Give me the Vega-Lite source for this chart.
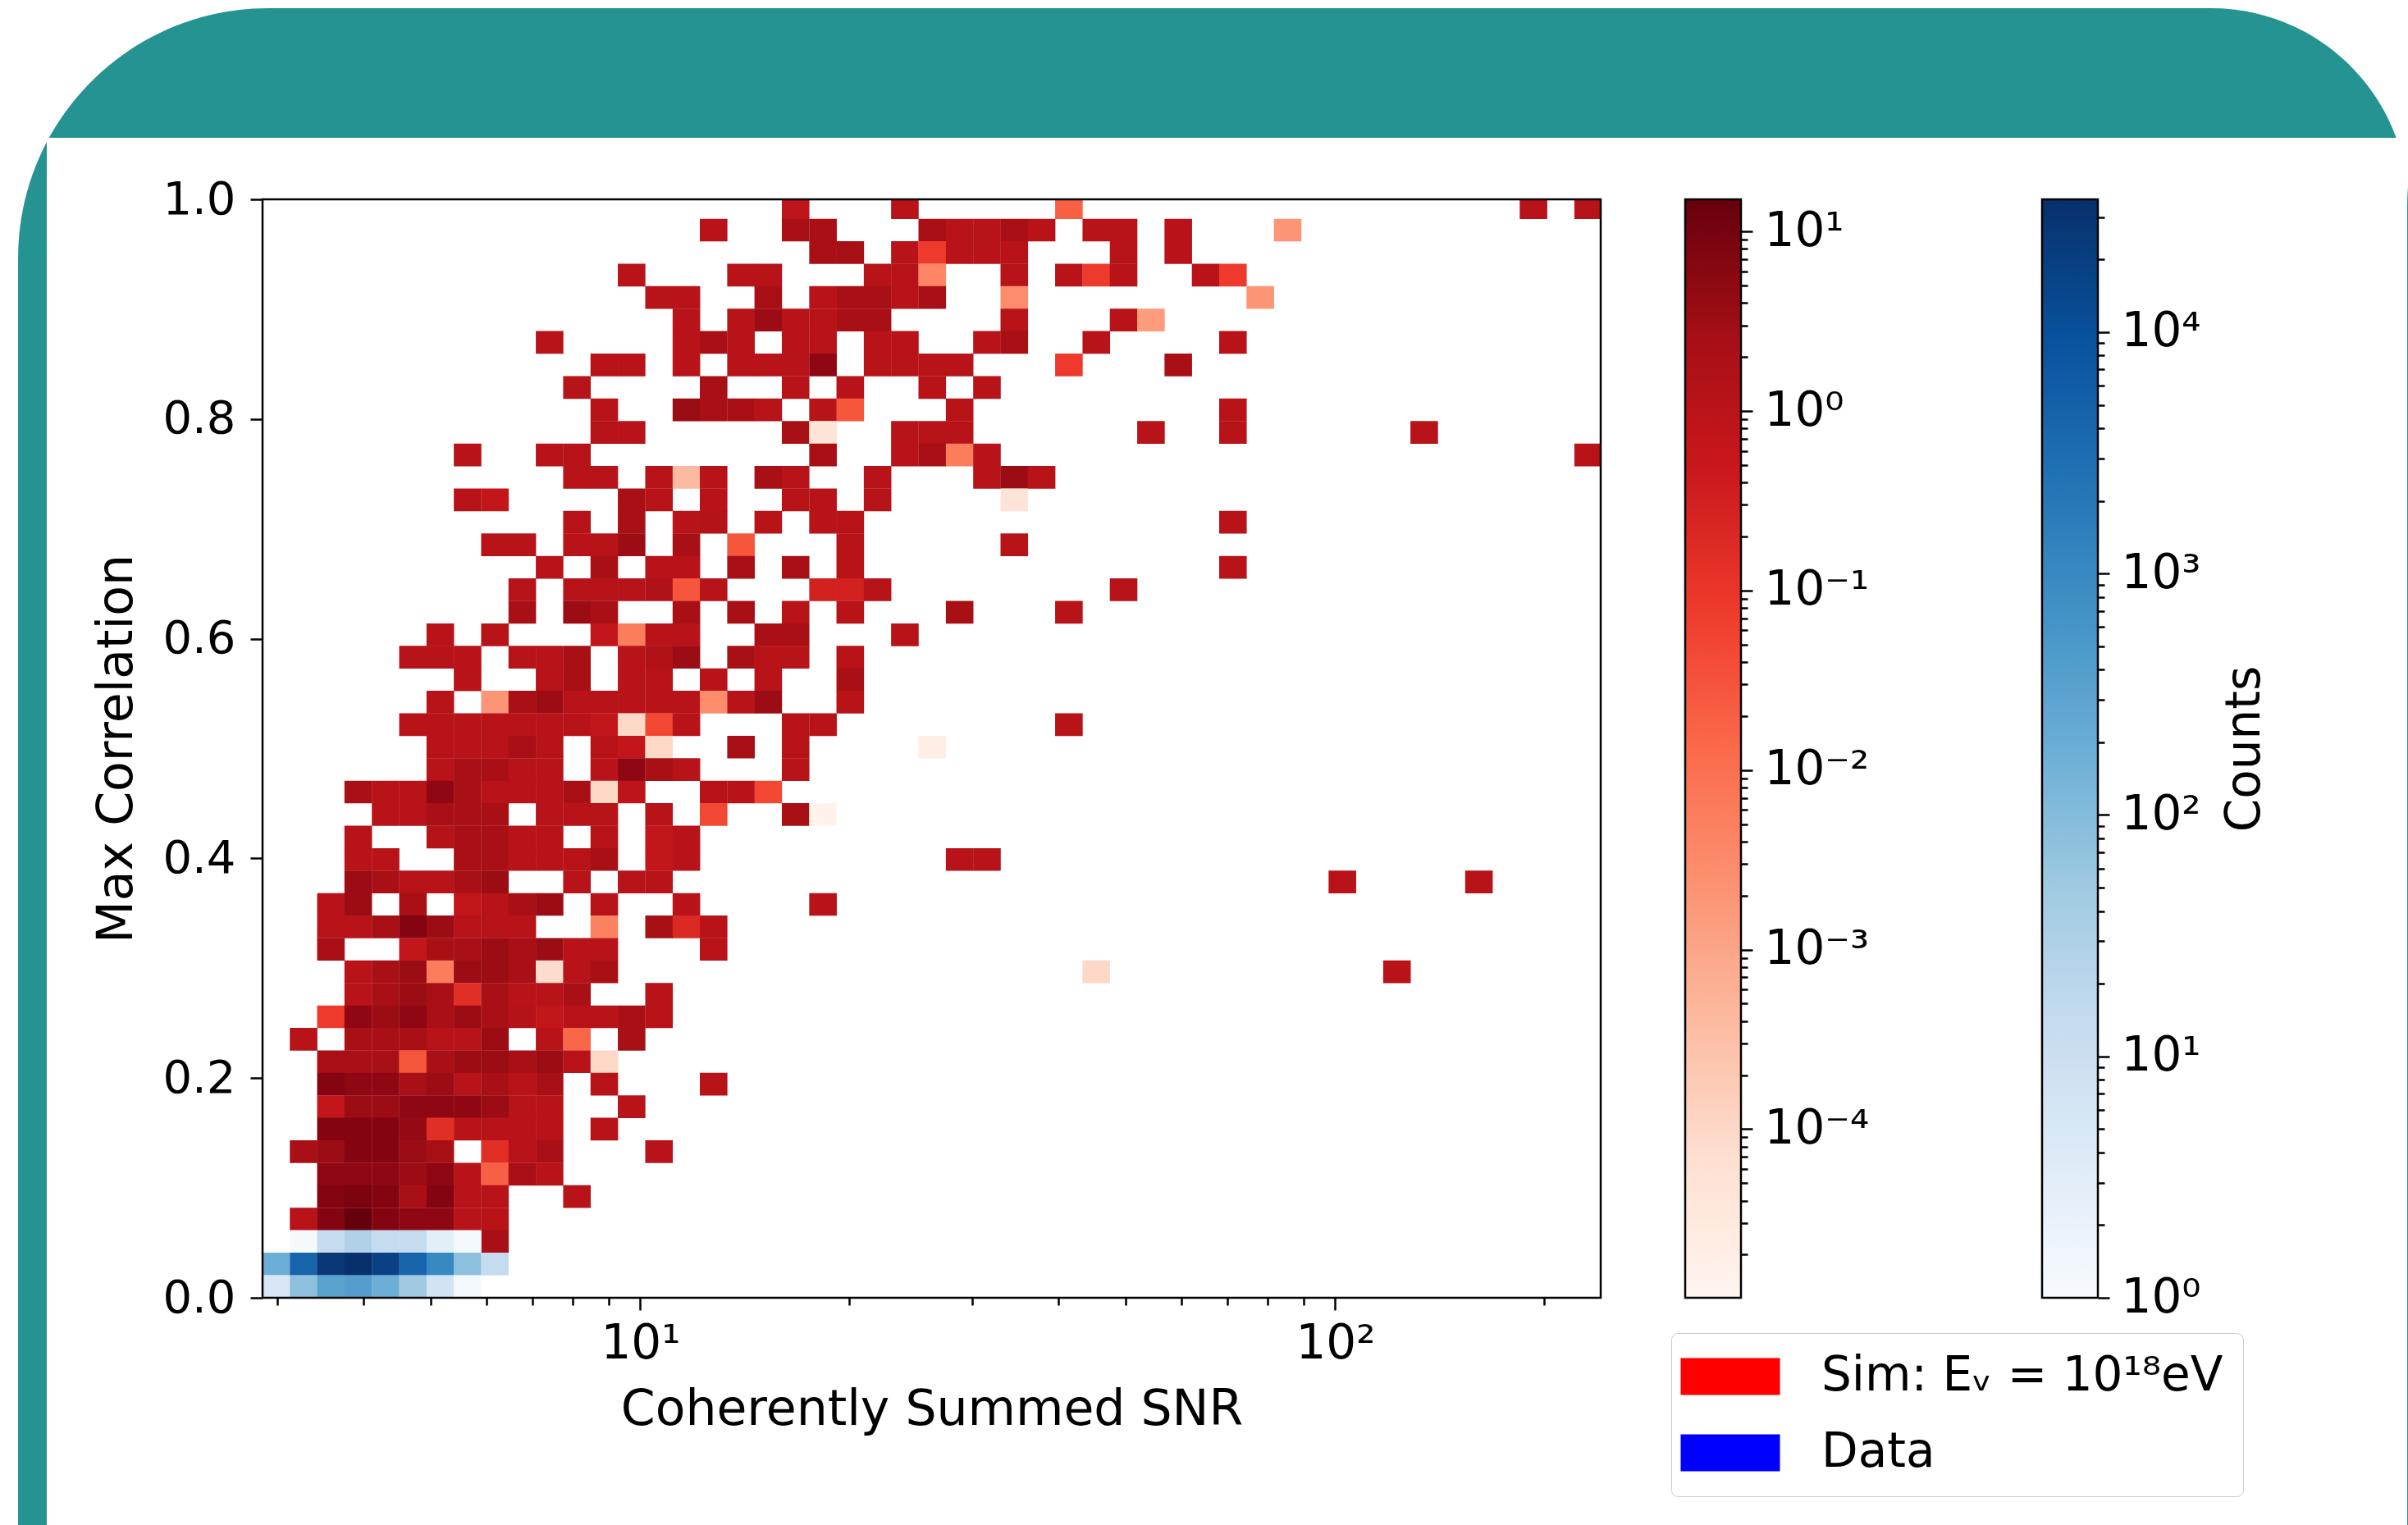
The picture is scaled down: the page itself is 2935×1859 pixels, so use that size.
{"$schema":"https://vega.github.io/schema/vega-lite/v6.json","background":"white","padding":{"left":22,"top":10,"right":0,"bottom":0},"bounds":"flush","spacing":103,"config":{"view":{"stroke":null},"font":"DejaVu Sans","axis":{"domain":false,"grid":false,"tickColor":"black","tickWidth":2.5,"labelColor":"black","titleColor":"black","titleFontWeight":"normal"}},
"datasets":{"sheet":[{"a":-0.1827,"b":1.6033,"c":-0.2069,"d":1.174}],"page":[{"a":-0.16125,"b":1.6027,"c":-0.2069,"d":1.056}],"one":[{"o":1}],"series":[{"s":"Sim: Eᵥ = 10¹⁸eV"},{"s":"Data"}],
"blues":[{"x":3.277,"y":0.0512,"v":1.2},{"x":3.587,"y":0.0512,"v":14},{"x":3.927,"y":0.0512,"v":29},{"x":4.3,"y":0.0512,"v":14},{"x":4.708,"y":0.0512,"v":14},{"x":5.154,"y":0.0512,"v":3},{"x":5.642,"y":0.0512,"v":1.2},{"x":2.993,"y":0.0307,"v":190},{"x":3.277,"y":0.0307,"v":4400},{"x":3.587,"y":0.0307,"v":26000},{"x":3.927,"y":0.0307,"v":35000},{"x":4.3,"y":0.0307,"v":18000},{"x":4.708,"y":0.0307,"v":4400},{"x":5.154,"y":0.0307,"v":1000},{"x":5.642,"y":0.0307,"v":80},{"x":6.177,"y":0.0307,"v":14},{"x":2.993,"y":0.0102,"v":5},{"x":3.277,"y":0.0102,"v":80},{"x":3.587,"y":0.0102,"v":320},{"x":3.927,"y":0.0102,"v":400},{"x":4.3,"y":0.0102,"v":190},{"x":4.708,"y":0.0102,"v":50},{"x":5.154,"y":0.0102,"v":7},{"x":5.642,"y":0.0102,"v":1.2}],
"reds":[
{"x":16.73,"y":0.9924,"v":0.8},{"x":24.03,"y":0.9924,"v":1.1},{"x":41.38,"y":0.9924,"v":0.02},{"x":192.9,"y":0.9924,"v":1.1},{"x":231.2,"y":0.9924,"v":1.1},
{"x":12.75,"y":0.972,"v":1.1},{"x":16.73,"y":0.972,"v":2.1},{"x":18.32,"y":0.972,"v":2.1},{"x":26.31,"y":0.972,"v":2.1},{"x":28.81,"y":0.972,"v":1.1},{"x":31.54,"y":0.972,"v":1.1},{"x":34.53,"y":0.972,"v":2.1},{"x":37.8,"y":0.972,"v":1.1},{"x":45.31,"y":0.972,"v":1.1},{"x":49.6,"y":0.972,"v":1.1},{"x":59.45,"y":0.972,"v":1.1},{"x":85.41,"y":0.972,"v":0.002},
{"x":18.32,"y":0.9515,"v":2.1},{"x":20.05,"y":0.9515,"v":2.1},{"x":24.03,"y":0.9515,"v":1.1},{"x":26.31,"y":0.9515,"v":0.08},{"x":28.81,"y":0.9515,"v":1.1},{"x":31.54,"y":0.9515,"v":1.1},{"x":34.53,"y":0.9515,"v":1.1},{"x":49.6,"y":0.9515,"v":1.1},{"x":59.45,"y":0.9515,"v":1.1},
{"x":9.716,"y":0.931,"v":1.1},{"x":13.96,"y":0.931,"v":1.1},{"x":15.28,"y":0.931,"v":1.1},{"x":21.95,"y":0.931,"v":1.1},{"x":24.03,"y":0.931,"v":1.1},{"x":26.31,"y":0.931,"v":0.004},{"x":34.53,"y":0.931,"v":1.1},{"x":41.38,"y":0.931,"v":1.1},{"x":45.31,"y":0.931,"v":0.08},{"x":49.6,"y":0.931,"v":1.1},{"x":65.09,"y":0.931,"v":1.1},{"x":71.26,"y":0.931,"v":0.08},
{"x":10.64,"y":0.9106,"v":1.1},{"x":11.65,"y":0.9106,"v":1.1},{"x":15.28,"y":0.9106,"v":2.1},{"x":18.32,"y":0.9106,"v":1.1},{"x":20.05,"y":0.9106,"v":2.1},{"x":21.95,"y":0.9106,"v":2.1},{"x":24.03,"y":0.9106,"v":1.1},{"x":26.31,"y":0.9106,"v":2.1},{"x":34.53,"y":0.9106,"v":0.003},{"x":78.02,"y":0.9106,"v":0.002},
{"x":11.65,"y":0.8901,"v":1.1},{"x":13.96,"y":0.8901,"v":1.1},{"x":15.28,"y":0.8901,"v":3.3},{"x":16.73,"y":0.8901,"v":1.1},{"x":18.32,"y":0.8901,"v":1.1},{"x":20.05,"y":0.8901,"v":2.1},{"x":21.95,"y":0.8901,"v":2.1},{"x":34.53,"y":0.8901,"v":1.1},{"x":49.6,"y":0.8901,"v":1.1},{"x":54.31,"y":0.8901,"v":0.0015},
{"x":7.404,"y":0.8697,"v":1.1},{"x":11.65,"y":0.8697,"v":1.1},{"x":12.75,"y":0.8697,"v":2.1},{"x":13.96,"y":0.8697,"v":1.1},{"x":16.73,"y":0.8697,"v":1.1},{"x":18.32,"y":0.8697,"v":1.1},{"x":21.95,"y":0.8697,"v":1.1},{"x":24.03,"y":0.8697,"v":1.1},{"x":31.54,"y":0.8697,"v":1.1},{"x":34.53,"y":0.8697,"v":2.1},{"x":45.31,"y":0.8697,"v":1.1},{"x":71.26,"y":0.8697,"v":1.1},
{"x":8.875,"y":0.8492,"v":1.1},{"x":9.716,"y":0.8492,"v":1.1},{"x":11.65,"y":0.8492,"v":1.1},{"x":13.96,"y":0.8492,"v":1.1},{"x":15.28,"y":0.8492,"v":1.1},{"x":16.73,"y":0.8492,"v":1.1},{"x":18.32,"y":0.8492,"v":4.8},{"x":21.95,"y":0.8492,"v":1.1},{"x":24.03,"y":0.8492,"v":1.1},{"x":26.31,"y":0.8492,"v":1.1},{"x":28.81,"y":0.8492,"v":1.1},{"x":41.38,"y":0.8492,"v":0.08},{"x":59.45,"y":0.8492,"v":2.1},
{"x":8.106,"y":0.8287,"v":1.1},{"x":12.75,"y":0.8287,"v":2.1},{"x":16.73,"y":0.8287,"v":1.1},{"x":20.05,"y":0.8287,"v":1.1},{"x":26.31,"y":0.8287,"v":1.1},{"x":31.54,"y":0.8287,"v":1.1},
{"x":8.875,"y":0.8083,"v":1.1},{"x":11.65,"y":0.8083,"v":3.3},{"x":12.75,"y":0.8083,"v":2.1},{"x":13.96,"y":0.8083,"v":2.1},{"x":15.28,"y":0.8083,"v":1.1},{"x":18.32,"y":0.8083,"v":1.1},{"x":20.05,"y":0.8083,"v":0.03},{"x":28.81,"y":0.8083,"v":1.1},{"x":71.26,"y":0.8083,"v":1.1},
{"x":8.875,"y":0.7878,"v":1.1},{"x":9.716,"y":0.7878,"v":1.1},{"x":16.73,"y":0.7878,"v":2.1},{"x":18.32,"y":0.7878,"v":0.00005},{"x":24.03,"y":0.7878,"v":1.1},{"x":26.31,"y":0.7878,"v":1.1},{"x":28.81,"y":0.7878,"v":1.1},{"x":54.31,"y":0.7878,"v":1.1},{"x":71.26,"y":0.7878,"v":1.1},{"x":134.3,"y":0.7878,"v":1.1},
{"x":5.642,"y":0.7673,"v":1.1},{"x":7.404,"y":0.7673,"v":1.1},{"x":8.106,"y":0.7673,"v":1.1},{"x":18.32,"y":0.7673,"v":2.1},{"x":24.03,"y":0.7673,"v":1.1},{"x":26.31,"y":0.7673,"v":2.1},{"x":28.81,"y":0.7673,"v":0.006},{"x":31.54,"y":0.7673,"v":1.1},{"x":231.2,"y":0.7673,"v":1.1},
{"x":8.106,"y":0.7469,"v":1.1},{"x":8.875,"y":0.7469,"v":1.1},{"x":10.64,"y":0.7469,"v":1.1},{"x":11.65,"y":0.7469,"v":0.0004},{"x":12.75,"y":0.7469,"v":1.1},{"x":15.28,"y":0.7469,"v":2.1},{"x":16.73,"y":0.7469,"v":1.1},{"x":21.95,"y":0.7469,"v":1.1},{"x":31.54,"y":0.7469,"v":1.1},{"x":34.53,"y":0.7469,"v":3.3},{"x":37.8,"y":0.7469,"v":1.1},
{"x":5.642,"y":0.7264,"v":1.1},{"x":6.177,"y":0.7264,"v":0.64},{"x":9.716,"y":0.7264,"v":2.1},{"x":10.64,"y":0.7264,"v":1.1},{"x":12.75,"y":0.7264,"v":1.1},{"x":16.73,"y":0.7264,"v":1.1},{"x":18.32,"y":0.7264,"v":1.1},{"x":21.95,"y":0.7264,"v":1.1},{"x":34.53,"y":0.7264,"v":0.00005},
{"x":8.106,"y":0.706,"v":1.1},{"x":9.716,"y":0.706,"v":2.1},{"x":11.65,"y":0.706,"v":1.1},{"x":12.75,"y":0.706,"v":1.3},{"x":15.28,"y":0.706,"v":1.1},{"x":18.32,"y":0.706,"v":1.1},{"x":20.05,"y":0.706,"v":1.1},{"x":71.26,"y":0.706,"v":1.1},
{"x":6.177,"y":0.6855,"v":1.1},{"x":6.763,"y":0.6855,"v":1.1},{"x":8.106,"y":0.6855,"v":1.1},{"x":8.875,"y":0.6855,"v":1.1},{"x":9.716,"y":0.6855,"v":3.3},{"x":11.65,"y":0.6855,"v":2.1},{"x":13.96,"y":0.6855,"v":0.03},{"x":20.05,"y":0.6855,"v":1.1},{"x":34.53,"y":0.6855,"v":1.1},
{"x":7.404,"y":0.665,"v":1.1},{"x":8.875,"y":0.665,"v":2.1},{"x":10.64,"y":0.665,"v":1.1},{"x":11.65,"y":0.665,"v":1.1},{"x":13.96,"y":0.665,"v":2.1},{"x":16.73,"y":0.665,"v":2.1},{"x":20.05,"y":0.665,"v":1.1},{"x":71.26,"y":0.665,"v":1.1},
{"x":6.763,"y":0.6446,"v":1.1},{"x":8.106,"y":0.6446,"v":1.1},{"x":8.875,"y":0.6446,"v":1.1},{"x":9.716,"y":0.6446,"v":1.1},{"x":10.64,"y":0.6446,"v":1.5},{"x":11.65,"y":0.6446,"v":0.03},{"x":12.75,"y":0.6446,"v":1.1},{"x":18.32,"y":0.6446,"v":0.3},{"x":20.05,"y":0.6446,"v":0.3},{"x":21.95,"y":0.6446,"v":1.1},{"x":49.6,"y":0.6446,"v":1.1},
{"x":6.763,"y":0.6241,"v":2.1},{"x":8.106,"y":0.6241,"v":3.3},{"x":8.875,"y":0.6241,"v":2.1},{"x":11.65,"y":0.6241,"v":2.1},{"x":13.96,"y":0.6241,"v":2.1},{"x":16.73,"y":0.6241,"v":1.1},{"x":20.05,"y":0.6241,"v":1.1},{"x":28.81,"y":0.6241,"v":2.1},{"x":41.38,"y":0.6241,"v":1.1},
{"x":5.154,"y":0.6036,"v":1.1},{"x":6.177,"y":0.6036,"v":1.1},{"x":8.875,"y":0.6036,"v":0.64},{"x":9.716,"y":0.6036,"v":0.006},{"x":10.64,"y":0.6036,"v":1.1},{"x":11.65,"y":0.6036,"v":1.1},{"x":15.28,"y":0.6036,"v":2.1},{"x":16.73,"y":0.6036,"v":2.1},{"x":24.03,"y":0.6036,"v":1.1},
{"x":4.708,"y":0.5832,"v":1.1},{"x":5.154,"y":0.5832,"v":1.1},{"x":5.642,"y":0.5832,"v":1.1},{"x":6.763,"y":0.5832,"v":1.1},{"x":7.404,"y":0.5832,"v":1.1},{"x":8.106,"y":0.5832,"v":2.1},{"x":9.716,"y":0.5832,"v":1.1},{"x":10.64,"y":0.5832,"v":1.5},{"x":11.65,"y":0.5832,"v":3.3},{"x":13.96,"y":0.5832,"v":2.1},{"x":15.28,"y":0.5832,"v":1.1},{"x":16.73,"y":0.5832,"v":1.1},{"x":20.05,"y":0.5832,"v":1.1},
{"x":5.642,"y":0.5627,"v":1.1},{"x":7.404,"y":0.5627,"v":1.1},{"x":8.106,"y":0.5627,"v":2.1},{"x":9.716,"y":0.5627,"v":1.1},{"x":10.64,"y":0.5627,"v":1.1},{"x":12.75,"y":0.5627,"v":1.1},{"x":15.28,"y":0.5627,"v":1.1},{"x":20.05,"y":0.5627,"v":2.1},
{"x":5.154,"y":0.5423,"v":1.1},{"x":6.177,"y":0.5423,"v":0.002},{"x":6.763,"y":0.5423,"v":2.1},{"x":7.404,"y":0.5423,"v":3.3},{"x":8.106,"y":0.5423,"v":1.1},{"x":8.875,"y":0.5423,"v":1.1},{"x":9.716,"y":0.5423,"v":1.1},{"x":10.64,"y":0.5423,"v":1.1},{"x":11.65,"y":0.5423,"v":1.1},{"x":12.75,"y":0.5423,"v":0.003},{"x":13.96,"y":0.5423,"v":1.1},{"x":15.28,"y":0.5423,"v":3.3},{"x":20.05,"y":0.5423,"v":1.1},
{"x":4.708,"y":0.5218,"v":1.1},{"x":5.154,"y":0.5218,"v":1.1},{"x":5.642,"y":0.5218,"v":1.1},{"x":6.177,"y":0.5218,"v":1.1},{"x":6.763,"y":0.5218,"v":1.1},{"x":7.404,"y":0.5218,"v":1.1},{"x":8.106,"y":0.5218,"v":1.1},{"x":8.875,"y":0.5218,"v":0.64},{"x":9.716,"y":0.5218,"v":0.0001},{"x":10.64,"y":0.5218,"v":0.05},{"x":11.65,"y":0.5218,"v":1.1},{"x":16.73,"y":0.5218,"v":1.1},{"x":18.32,"y":0.5218,"v":1.1},{"x":41.38,"y":0.5218,"v":1.1},
{"x":5.154,"y":0.5013,"v":1.1},{"x":5.642,"y":0.5013,"v":1.1},{"x":6.177,"y":0.5013,"v":1.1},{"x":6.763,"y":0.5013,"v":2.1},{"x":7.404,"y":0.5013,"v":1.1},{"x":8.875,"y":0.5013,"v":1.1},{"x":9.716,"y":0.5013,"v":0.64},{"x":10.64,"y":0.5013,"v":0.0001},{"x":13.96,"y":0.5013,"v":2.1},{"x":16.73,"y":0.5013,"v":1.1},{"x":26.31,"y":0.5013,"v":0.00002},
{"x":5.154,"y":0.4809,"v":1.1},{"x":5.642,"y":0.4809,"v":2.1},{"x":6.177,"y":0.4809,"v":2.1},{"x":6.763,"y":0.4809,"v":1.1},{"x":7.404,"y":0.4809,"v":1.1},{"x":8.875,"y":0.4809,"v":1.1},{"x":9.716,"y":0.4809,"v":4.8},{"x":10.64,"y":0.4809,"v":2.1},{"x":11.65,"y":0.4809,"v":1.1},{"x":16.73,"y":0.4809,"v":1.1},
{"x":3.927,"y":0.4604,"v":2.1},{"x":4.3,"y":0.4604,"v":1.1},{"x":4.708,"y":0.4604,"v":1.1},{"x":5.154,"y":0.4604,"v":4.8},{"x":5.642,"y":0.4604,"v":2.1},{"x":6.177,"y":0.4604,"v":1.1},{"x":6.763,"y":0.4604,"v":1.1},{"x":7.404,"y":0.4604,"v":1.1},{"x":8.106,"y":0.4604,"v":2.1},{"x":8.875,"y":0.4604,"v":0.0001},{"x":9.716,"y":0.4604,"v":0.9},{"x":12.75,"y":0.4604,"v":1.1},{"x":13.96,"y":0.4604,"v":1.1},{"x":15.28,"y":0.4604,"v":0.05},
{"x":4.3,"y":0.4399,"v":1.1},{"x":4.708,"y":0.4399,"v":1.1},{"x":5.154,"y":0.4399,"v":2.1},{"x":5.642,"y":0.4399,"v":2.1},{"x":6.177,"y":0.4399,"v":2.1},{"x":7.404,"y":0.4399,"v":1.1},{"x":8.106,"y":0.4399,"v":1.1},{"x":8.875,"y":0.4399,"v":1.1},{"x":10.64,"y":0.4399,"v":1.1},{"x":12.75,"y":0.4399,"v":0.05},{"x":16.73,"y":0.4399,"v":2.1},{"x":18.32,"y":0.4399,"v":0.000015},
{"x":3.927,"y":0.4195,"v":1.1},{"x":5.154,"y":0.4195,"v":1.3},{"x":5.642,"y":0.4195,"v":2.1},{"x":6.177,"y":0.4195,"v":2.1},{"x":6.763,"y":0.4195,"v":1.1},{"x":7.404,"y":0.4195,"v":1.1},{"x":8.875,"y":0.4195,"v":1.1},{"x":10.64,"y":0.4195,"v":0.64},{"x":11.65,"y":0.4195,"v":1.1},
{"x":3.927,"y":0.399,"v":1.1},{"x":4.3,"y":0.399,"v":1.1},{"x":5.642,"y":0.399,"v":2.1},{"x":6.177,"y":0.399,"v":2.1},{"x":6.763,"y":0.399,"v":1.1},{"x":7.404,"y":0.399,"v":1.1},{"x":8.106,"y":0.399,"v":1.1},{"x":8.875,"y":0.399,"v":2.1},{"x":10.64,"y":0.399,"v":0.64},{"x":11.65,"y":0.399,"v":1.1},{"x":28.81,"y":0.399,"v":1.1},{"x":31.54,"y":0.399,"v":1.1},
{"x":3.927,"y":0.3786,"v":3.3},{"x":4.3,"y":0.3786,"v":2.1},{"x":4.708,"y":0.3786,"v":1.1},{"x":5.154,"y":0.3786,"v":1.1},{"x":5.642,"y":0.3786,"v":2.1},{"x":6.177,"y":0.3786,"v":3.3},{"x":8.106,"y":0.3786,"v":1.1},{"x":9.716,"y":0.3786,"v":1.1},{"x":10.64,"y":0.3786,"v":1.1},{"x":102.4,"y":0.3786,"v":1.1},{"x":161,"y":0.3786,"v":1.1},
{"x":3.587,"y":0.3581,"v":1.1},{"x":3.927,"y":0.3581,"v":3.3},{"x":4.708,"y":0.3581,"v":2.1},{"x":5.642,"y":0.3581,"v":0.64},{"x":6.177,"y":0.3581,"v":1.1},{"x":6.763,"y":0.3581,"v":2.1},{"x":7.404,"y":0.3581,"v":3.3},{"x":8.875,"y":0.3581,"v":1.1},{"x":11.65,"y":0.3581,"v":1.1},{"x":18.32,"y":0.3581,"v":1.1},
{"x":3.587,"y":0.3376,"v":1.1},{"x":3.927,"y":0.3376,"v":1.1},{"x":4.3,"y":0.3376,"v":2.1},{"x":4.708,"y":0.3376,"v":6.5},{"x":5.154,"y":0.3376,"v":3.3},{"x":5.642,"y":0.3376,"v":1.1},{"x":6.177,"y":0.3376,"v":1.1},{"x":6.763,"y":0.3376,"v":1.1},{"x":8.875,"y":0.3376,"v":0.005},{"x":10.64,"y":0.3376,"v":2.1},{"x":11.65,"y":0.3376,"v":0.2},{"x":12.75,"y":0.3376,"v":1.1},
{"x":3.587,"y":0.3172,"v":2.1},{"x":4.708,"y":0.3172,"v":0.64},{"x":5.154,"y":0.3172,"v":2.1},{"x":5.642,"y":0.3172,"v":2.1},{"x":6.177,"y":0.3172,"v":3.3},{"x":6.763,"y":0.3172,"v":2.1},{"x":7.404,"y":0.3172,"v":3.3},{"x":8.106,"y":0.3172,"v":1.1},{"x":8.875,"y":0.3172,"v":1.1},{"x":12.75,"y":0.3172,"v":1.1},
{"x":3.927,"y":0.2967,"v":1.1},{"x":4.3,"y":0.2967,"v":2.1},{"x":4.708,"y":0.2967,"v":3.3},{"x":5.154,"y":0.2967,"v":0.006},{"x":5.642,"y":0.2967,"v":3.3},{"x":6.177,"y":0.2967,"v":3.3},{"x":6.763,"y":0.2967,"v":2.1},{"x":7.404,"y":0.2967,"v":0.00008},{"x":8.106,"y":0.2967,"v":1.1},{"x":8.875,"y":0.2967,"v":2.1},{"x":45.31,"y":0.2967,"v":0.0001},{"x":122.7,"y":0.2967,"v":1.1},
{"x":3.927,"y":0.2762,"v":1.1},{"x":4.3,"y":0.2762,"v":2.1},{"x":4.708,"y":0.2762,"v":3.3},{"x":5.154,"y":0.2762,"v":2.1},{"x":5.642,"y":0.2762,"v":0.15},{"x":6.177,"y":0.2762,"v":2.1},{"x":6.763,"y":0.2762,"v":1.1},{"x":7.404,"y":0.2762,"v":1.1},{"x":8.106,"y":0.2762,"v":2.1},{"x":10.64,"y":0.2762,"v":1.1},
{"x":3.587,"y":0.2558,"v":0.08},{"x":3.927,"y":0.2558,"v":4.8},{"x":4.3,"y":0.2558,"v":3.3},{"x":4.708,"y":0.2558,"v":4.8},{"x":5.154,"y":0.2558,"v":2.1},{"x":5.642,"y":0.2558,"v":3.3},{"x":6.177,"y":0.2558,"v":2.1},{"x":6.763,"y":0.2558,"v":1.3},{"x":7.404,"y":0.2558,"v":0.64},{"x":8.106,"y":0.2558,"v":1.1},{"x":8.875,"y":0.2558,"v":1.1},{"x":9.716,"y":0.2558,"v":2.1},{"x":10.64,"y":0.2558,"v":1.1},
{"x":3.277,"y":0.2353,"v":1.1},{"x":3.927,"y":0.2353,"v":2.1},{"x":4.3,"y":0.2353,"v":2.1},{"x":4.708,"y":0.2353,"v":2.1},{"x":5.154,"y":0.2353,"v":1.1},{"x":5.642,"y":0.2353,"v":1.1},{"x":6.177,"y":0.2353,"v":3.3},{"x":7.404,"y":0.2353,"v":1.1},{"x":8.106,"y":0.2353,"v":0.015},{"x":9.716,"y":0.2353,"v":2.1},
{"x":3.587,"y":0.2149,"v":2.1},{"x":3.927,"y":0.2149,"v":2.1},{"x":4.3,"y":0.2149,"v":2.1},{"x":4.708,"y":0.2149,"v":0.03},{"x":5.154,"y":0.2149,"v":2.1},{"x":5.642,"y":0.2149,"v":3.3},{"x":6.177,"y":0.2149,"v":3.3},{"x":6.763,"y":0.2149,"v":2.1},{"x":7.404,"y":0.2149,"v":3.3},{"x":8.106,"y":0.2149,"v":1.1},{"x":8.875,"y":0.2149,"v":0.0001},
{"x":3.587,"y":0.1944,"v":6.5},{"x":3.927,"y":0.1944,"v":4.8},{"x":4.3,"y":0.1944,"v":4.8},{"x":4.708,"y":0.1944,"v":2.1},{"x":5.154,"y":0.1944,"v":3.3},{"x":5.642,"y":0.1944,"v":1.1},{"x":6.177,"y":0.1944,"v":2.1},{"x":6.763,"y":0.1944,"v":1.1},{"x":7.404,"y":0.1944,"v":2.1},{"x":8.875,"y":0.1944,"v":1.1},{"x":12.75,"y":0.1944,"v":1.1},
{"x":3.587,"y":0.1739,"v":0.64},{"x":3.927,"y":0.1739,"v":3.3},{"x":4.3,"y":0.1739,"v":3.3},{"x":4.708,"y":0.1739,"v":4.8},{"x":5.154,"y":0.1739,"v":4.8},{"x":5.642,"y":0.1739,"v":4.8},{"x":6.177,"y":0.1739,"v":3.3},{"x":6.763,"y":0.1739,"v":1.1},{"x":7.404,"y":0.1739,"v":1.1},{"x":9.716,"y":0.1739,"v":1.1},
{"x":3.587,"y":0.1535,"v":6.5},{"x":3.927,"y":0.1535,"v":6.5},{"x":4.3,"y":0.1535,"v":6.5},{"x":4.708,"y":0.1535,"v":4},{"x":5.154,"y":0.1535,"v":0.15},{"x":5.642,"y":0.1535,"v":1.1},{"x":6.177,"y":0.1535,"v":1.1},{"x":6.763,"y":0.1535,"v":1.1},{"x":7.404,"y":0.1535,"v":1.1},{"x":8.875,"y":0.1535,"v":1.1},
{"x":3.277,"y":0.133,"v":2.1},{"x":3.587,"y":0.133,"v":3.3},{"x":3.927,"y":0.133,"v":6.5},{"x":4.3,"y":0.133,"v":6.5},{"x":4.708,"y":0.133,"v":3.3},{"x":5.154,"y":0.133,"v":2.1},{"x":6.177,"y":0.133,"v":0.15},{"x":6.763,"y":0.133,"v":1.1},{"x":7.404,"y":0.133,"v":2.1},{"x":10.64,"y":0.133,"v":1.1},
{"x":3.587,"y":0.1125,"v":4.8},{"x":3.927,"y":0.1125,"v":4.8},{"x":4.3,"y":0.1125,"v":4.8},{"x":4.708,"y":0.1125,"v":3.3},{"x":5.154,"y":0.1125,"v":4.8},{"x":5.642,"y":0.1125,"v":1.1},{"x":6.177,"y":0.1125,"v":0.02},{"x":6.763,"y":0.1125,"v":2.1},{"x":7.404,"y":0.1125,"v":1.1},
{"x":3.587,"y":0.0921,"v":6.5},{"x":3.927,"y":0.0921,"v":8},{"x":4.3,"y":0.0921,"v":6.5},{"x":4.708,"y":0.0921,"v":2.1},{"x":5.154,"y":0.0921,"v":6.5},{"x":5.642,"y":0.0921,"v":1.1},{"x":6.177,"y":0.0921,"v":1.1},{"x":8.106,"y":0.0921,"v":1.1},
{"x":3.277,"y":0.0716,"v":1.1},{"x":3.587,"y":0.0716,"v":6.5},{"x":3.927,"y":0.0716,"v":15},{"x":4.3,"y":0.0716,"v":6.5},{"x":4.708,"y":0.0716,"v":4.8},{"x":5.154,"y":0.0716,"v":4.8},{"x":5.642,"y":0.0716,"v":1.1},{"x":6.177,"y":0.0716,"v":1.1},
{"x":6.177,"y":0.0512,"v":2.1}]},
"hconcat":[
{"width":1631,"height":1339,"resolve":{"scale":{"x":"independent","y":"independent","color":"independent"},"axis":{"x":"independent","y":"independent"}},
"layer":[
{"data":{"name":"sheet"},"mark":{"type":"rect","fill":"#259392","cornerRadiusTopLeft":305,"cornerRadiusTopRight":240},"encoding":{"x":{"field":"a","type":"quantitative","scale":{"domain":[0,1],"nice":false,"zero":false,"clamp":false},"axis":null},"x2":{"field":"b"},"y":{"field":"c","type":"quantitative","scale":{"domain":[0,1],"nice":false,"zero":false,"clamp":false},"axis":null},"y2":{"field":"d"}}},
{"data":{"name":"page"},"mark":{"type":"rect","fill":"white"},"encoding":{"x":{"field":"a","type":"quantitative","scale":{"domain":[0,1],"nice":false,"zero":false},"axis":null},"x2":{"field":"b"},"y":{"field":"c","type":"quantitative","scale":{"domain":[0,1],"nice":false,"zero":false},"axis":null},"y2":{"field":"d"}}},
{"data":{"name":"reds"},"mark":{"type":"rect","width":33.6,"height":27.7,"clip":true},"encoding":{"x":{"field":"x","type":"quantitative","scale":{"type":"log","domain":[2.86,241],"nice":false},"axis":{"zindex":1,"title":"Coherently Summed SNR","titleFontSize":60,"titlePadding":22,"labelFontSize":58,"labelPadding":12,"values":[3,4,5,6,7,8,9,10,20,30,40,50,60,70,80,90,100,200],"labelExpr":"datum.value==10?'10¹':datum.value==100?'10²':''","labelOverlap":false,"labelFlush":false,"tickSize":{"condition":{"test":"datum.value==10||datum.value==100","value":15},"value":9}}},"y":{"field":"y","type":"quantitative","scale":{"domain":[0,1],"nice":false,"zero":false},"axis":{"zindex":1,"title":"Max Correlation","titleFontSize":60,"titlePadding":24,"labelFontSize":56,"labelPadding":18,"tickSize":15,"values":[0,0.2,0.4,0.6,0.8,1],"format":".1f","labelFlush":false}},"color":{"field":"v","type":"quantitative","legend":null,"scale":{"type":"log","domain":[0.0000115,15.1],"range":["#fff5f0","#fee0d2","#fcbba1","#fc9272","#fb6a4a","#ef3b2c","#cb181d","#a50f15","#67000d"]}}}},
{"data":{"name":"blues"},"mark":{"type":"rect","width":33.6,"height":27.7,"clip":true},"encoding":{"x":{"field":"x","type":"quantitative","scale":{"type":"log","domain":[2.86,241],"nice":false},"axis":null},"y":{"field":"y","type":"quantitative","scale":{"domain":[0,1],"nice":false,"zero":false},"axis":null},"color":{"field":"v","type":"quantitative","legend":null,"scale":{"type":"log","domain":[1,35500],"range":["#f7fbff","#deebf7","#c6dbef","#9ecae1","#6baed6","#4292c6","#2171b5","#08519c","#08306b"]}}}},
{"data":{"name":"one"},"mark":{"type":"rect","fill":null,"stroke":"black","strokeWidth":2.5},"encoding":{}},
{"data":{"name":"series"},"mark":{"type":"rect","opacity":0},"encoding":{"color":{"field":"s","type":"nominal","scale":{"domain":["Sim: Eᵥ = 10¹⁸eV","Data"],"range":["#ff0000","#0000ff"]},"legend":{"title":null,"orient":"none","legendX":1717,"legendY":1382,"padding":24,"fillColor":"white","strokeColor":"#cccccc","cornerRadius":8,"symbolType":"M-2.69,-1H2.69V1H-2.69Z","symbolSize":2025,"symbolOpacity":1,"symbolStrokeWidth":0,"symbolOffset":19,"rowPadding":35,"labelOffset":82,"labelFontSize":58,"labelLimit":1000,"labelColor":"black","encoding":{"labels":{"update":{"fontStyle":{"signal":"datum.value=='Data'?'normal':'italic'"}}}}}}}}
]},
{"width":68,"height":1339,"data":{"values":[{"lo":0.0000115,"hi":15.1}]},"mark":{"type":"rect","stroke":"black","strokeWidth":2.5,"color":{"gradient":"linear","x1":0,"y1":1,"x2":0,"y2":0,"stops":[{"offset":0,"color":"#fff5f0"},{"offset":0.125,"color":"#fee0d2"},{"offset":0.25,"color":"#fcbba1"},{"offset":0.375,"color":"#fc9272"},{"offset":0.5,"color":"#fb6a4a"},{"offset":0.625,"color":"#ef3b2c"},{"offset":0.75,"color":"#cb181d"},{"offset":0.875,"color":"#a50f15"},{"offset":1,"color":"#67000d"}]}},"encoding":{"y":{"field":"lo","type":"quantitative","scale":{"type":"log","domain":[0.0000115,15.1],"nice":false},"axis":{"orient":"right","title":null,"labelFontSize":58,"labelPadding":14,"values":[0.00002,0.00003,0.00004,0.00005,0.00006,0.00007,0.00008,0.00009,0.0001,0.0002,0.0003,0.0004,0.0005,0.0006,0.0007,0.0008,0.0009,0.001,0.002,0.003,0.004,0.005,0.006,0.007,0.008,0.009,0.01,0.02,0.03,0.04,0.05,0.06,0.07,0.08,0.09,0.1,0.2,0.3,0.4,0.5,0.6,0.7,0.8,0.9,1,2,3,4,5,6,7,8,9,10],"labelOverlap":false,"labelFlush":false,"labelExpr":"datum.value==10?'10¹':datum.value==1?'10⁰':datum.value==0.1?'10⁻¹':datum.value==0.01?'10⁻²':datum.value==0.001?'10⁻³':datum.value==0.0001?'10⁻⁴':''","tickSize":{"condition":{"test":"indexof([10,1,0.1,0.01,0.001,0.0001],datum.value)>=0","value":14},"value":8}}},"y2":{"field":"hi"}}},
{"width":160.5,"height":1339,"data":{"name":"one"},"mark":{"type":"rect","opacity":0},"encoding":{}},
{"width":68,"height":1339,"data":{"values":[{"lo":1,"hi":35500}]},"mark":{"type":"rect","stroke":"black","strokeWidth":2.5,"color":{"gradient":"linear","x1":0,"y1":1,"x2":0,"y2":0,"stops":[{"offset":0,"color":"#f7fbff"},{"offset":0.125,"color":"#deebf7"},{"offset":0.25,"color":"#c6dbef"},{"offset":0.375,"color":"#9ecae1"},{"offset":0.5,"color":"#6baed6"},{"offset":0.625,"color":"#4292c6"},{"offset":0.75,"color":"#2171b5"},{"offset":0.875,"color":"#08519c"},{"offset":1,"color":"#08306b"}]}},"encoding":{"y":{"field":"lo","type":"quantitative","scale":{"type":"log","domain":[1,35500],"nice":false},"axis":{"orient":"right","title":"Counts","titleFontSize":58,"titleAngle":-90,"titlePadding":83,"labelFontSize":58,"labelPadding":14,"values":[1,2,3,4,5,6,7,8,9,10,20,30,40,50,60,70,80,90,100,200,300,400,500,600,700,800,900,1000,2000,3000,4000,5000,6000,7000,8000,9000,10000,20000,30000],"labelOverlap":false,"labelFlush":false,"labelExpr":"datum.value==1?'10⁰':datum.value==10?'10¹':datum.value==100?'10²':datum.value==1000?'10³':datum.value==10000?'10⁴':''","tickSize":{"condition":{"test":"indexof([1,10,100,1000,10000],datum.value)>=0","value":14},"value":8}}},"y2":{"field":"hi"}}}
]}
